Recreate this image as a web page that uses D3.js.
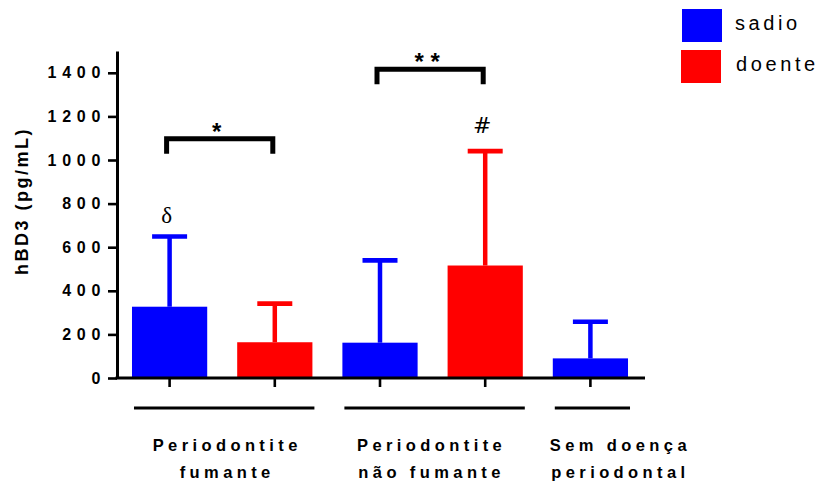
<!DOCTYPE html>
<html>
<head>
<meta charset="utf-8">
<script src="https://cdn.jsdelivr.net/npm/d3@7"></script>
<style>
  body { margin: 0; background: #fff; }
  svg { display: block; }
  text { font-family: "Liberation Sans", Arial, sans-serif; fill: #000; }
</style>
</head>
<body>
<svg id="chart" width="818" height="486"></svg>
<script>
// ---- data ----
const seriesNames = ["sadio", "doente"];
const seriesColors = ["#0000ff", "#ff0000"];

const groupLabels = [
  ["Periodontite", "fumante"],
  ["Periodontite", "não fumante"],
  ["Sem doença", "periodontal"]
];

// one entry per bar
const barKeys   = ["fum-sadio", "fum-doente", "nf-sadio", "nf-doente", "sd-sadio"];
const barGroup  = [0, 0, 1, 1, 2];
const barSeries = [0, 1, 0, 1, 0];
const means     = [327, 164, 162, 516, 90];   // hBD3 mean (pg/mL)
const sds       = [322, 177, 378, 525, 168];  // standard deviation

const yTicks = [0, 200, 400, 600, 800, 1000, 1200, 1400];

// significance brackets between bar pairs
const comparisons = [
  { a: 0, b: 1, level: 1097, label: "*" },
  { a: 2, b: 3, level: 1416, label: "* *" }
];
// symbols above individual bars
const barMarks = [
  { bar: 0, label: "δ" },
  { bar: 3, label: "#" }
];

// ---- layout ----
const svg = d3.select("#chart");
const x0 = 117, x1 = 643, yBase = 378, yTop = 51;

const x = d3.scaleBand().domain(barKeys).range([x0, x1])
  .paddingInner(0.285).paddingOuter(0.1425);
const y = d3.scaleLinear().domain([0, 1500]).range([yBase, yTop]);
const cx = i => x(barKeys[i]) + x.bandwidth() / 2;

// bars
svg.append("g").selectAll("rect").data(means).join("rect")
  .attr("x", (d, i) => x(barKeys[i]))
  .attr("y", d => y(d))
  .attr("width", x.bandwidth())
  .attr("height", d => y(0) - y(d))
  .attr("fill", (d, i) => seriesColors[barSeries[i]]);

// upper error bars
const err = svg.append("g");
means.forEach((m, i) => {
  const c = seriesColors[barSeries[i]];
  err.append("line")
    .attr("x1", cx(i)).attr("x2", cx(i))
    .attr("y1", y(m)).attr("y2", y(m + sds[i]))
    .attr("stroke", c).attr("stroke-width", 4.5);
  err.append("line")
    .attr("x1", cx(i) - 17.5).attr("x2", cx(i) + 17.5)
    .attr("y1", y(m + sds[i])).attr("y2", y(m + sds[i]))
    .attr("stroke", c).attr("stroke-width", 4.7);
});

// y axis
const yAxis = svg.append("g")
  .attr("transform", `translate(${x0},0)`)
  .call(d3.axisLeft(y).tickValues(yTicks).tickFormat(d3.format("d"))
    .tickSize(9).tickSizeOuter(0).tickPadding(2));
yAxis.select(".domain").attr("stroke-width", 3);
yAxis.selectAll(".tick line").attr("stroke-width", 2.6);
yAxis.selectAll(".tick text")
  .style("font-family", '"Liberation Sans", Arial, sans-serif')
  .style("font-size", "16px").style("font-weight", "bold")
  .style("letter-spacing", "5.7px");

// x axis
const xAxis = svg.append("g")
  .attr("transform", `translate(0,${yBase})`)
  .call(d3.axisBottom(x).tickSize(9).tickSizeOuter(0).tickFormat(""));
xAxis.select(".domain").remove();
xAxis.append("line").attr("x1", x0 - 1.5).attr("x2", 645)
  .attr("y1", 0).attr("y2", 0).attr("stroke", "#000").attr("stroke-width", 3);
xAxis.selectAll(".tick line").attr("stroke-width", 2.6);

// y axis title
svg.append("text")
  .attr("transform", "translate(28,201) rotate(-90)")
  .attr("text-anchor", "middle")
  .style("font-size", "18px").style("font-weight", "bold")
  .style("letter-spacing", "2.5px")
  .text("hBD3 (pg/mL)");

// group underlines and labels
const labelShift = [2, -4, 27];
groupLabels.forEach((lines, g) => {
  const idx = barGroup.map((v, i) => v === g ? i : -1).filter(i => i >= 0);
  const left = x(barKeys[idx[0]]) + 2;
  const right = x(barKeys[idx[idx.length - 1]]) + x.bandwidth() + 2;
  svg.append("line")
    .attr("x1", left).attr("x2", right)
    .attr("y1", 408).attr("y2", 408)
    .attr("stroke", "#000").attr("stroke-width", 3);
  const t = svg.append("text")
    .attr("text-anchor", "middle")
    .style("font-size", "16.5px").style("font-weight", "bold")
    .style("letter-spacing", "4.4px");
  lines.forEach((ln, k) => {
    t.append("tspan")
      .attr("x", (left + right) / 2 + labelShift[g] + 1)
      .attr("y", 451 + k * 27)
      .text(ln);
  });
});

// significance brackets
comparisons.forEach(cmp => {
  const xa = cx(cmp.a) - 3, xb = cx(cmp.b) - 2;
  const yl = y(cmp.level);
  svg.append("path")
    .attr("d", `M${xa},${yl + 15} V${yl} H${xb} V${yl + 15}`)
    .attr("fill", "none").attr("stroke", "#000")
    .attr("stroke-width", 5).attr("stroke-linejoin", "miter");
  svg.append("text")
    .attr("x", (xa + xb) / 2 - 3).attr("y", yl + 1)
    .attr("text-anchor", "middle")
    .style("font-size", "24px").style("font-weight", "bold")
    .text(cmp.label);
});

// symbols above bars
const markFonts = ['"Liberation Serif", "Times New Roman", serif', '"DejaVu Sans", sans-serif'];
const markSizes = ["23px", "22px"];
const markLift = [13.5, 18.5];
barMarks.forEach((mk, k) => {
  svg.append("text")
    .attr("x", cx(mk.bar) - 3)
    .attr("y", y(means[mk.bar] + sds[mk.bar]) - markLift[k])
    .attr("text-anchor", "middle")
    .style("font-family", markFonts[k])
    .style("font-size", markSizes[k])
    .text(mk.label);
});

// legend
const legend = svg.append("g");
seriesNames.forEach((s, i) => {
  legend.append("rect")
    .attr("x", 682 - i).attr("y", 9 + i * 41)
    .attr("width", 40).attr("height", 33)
    .attr("fill", seriesColors[i]);
  legend.append("text")
    .attr("x", 735 + i).attr("y", 30 + i * 41)
    .style("font-size", "20px").style("letter-spacing", "3.6px")
    .text(s);
});
</script>
</body>
</html>
